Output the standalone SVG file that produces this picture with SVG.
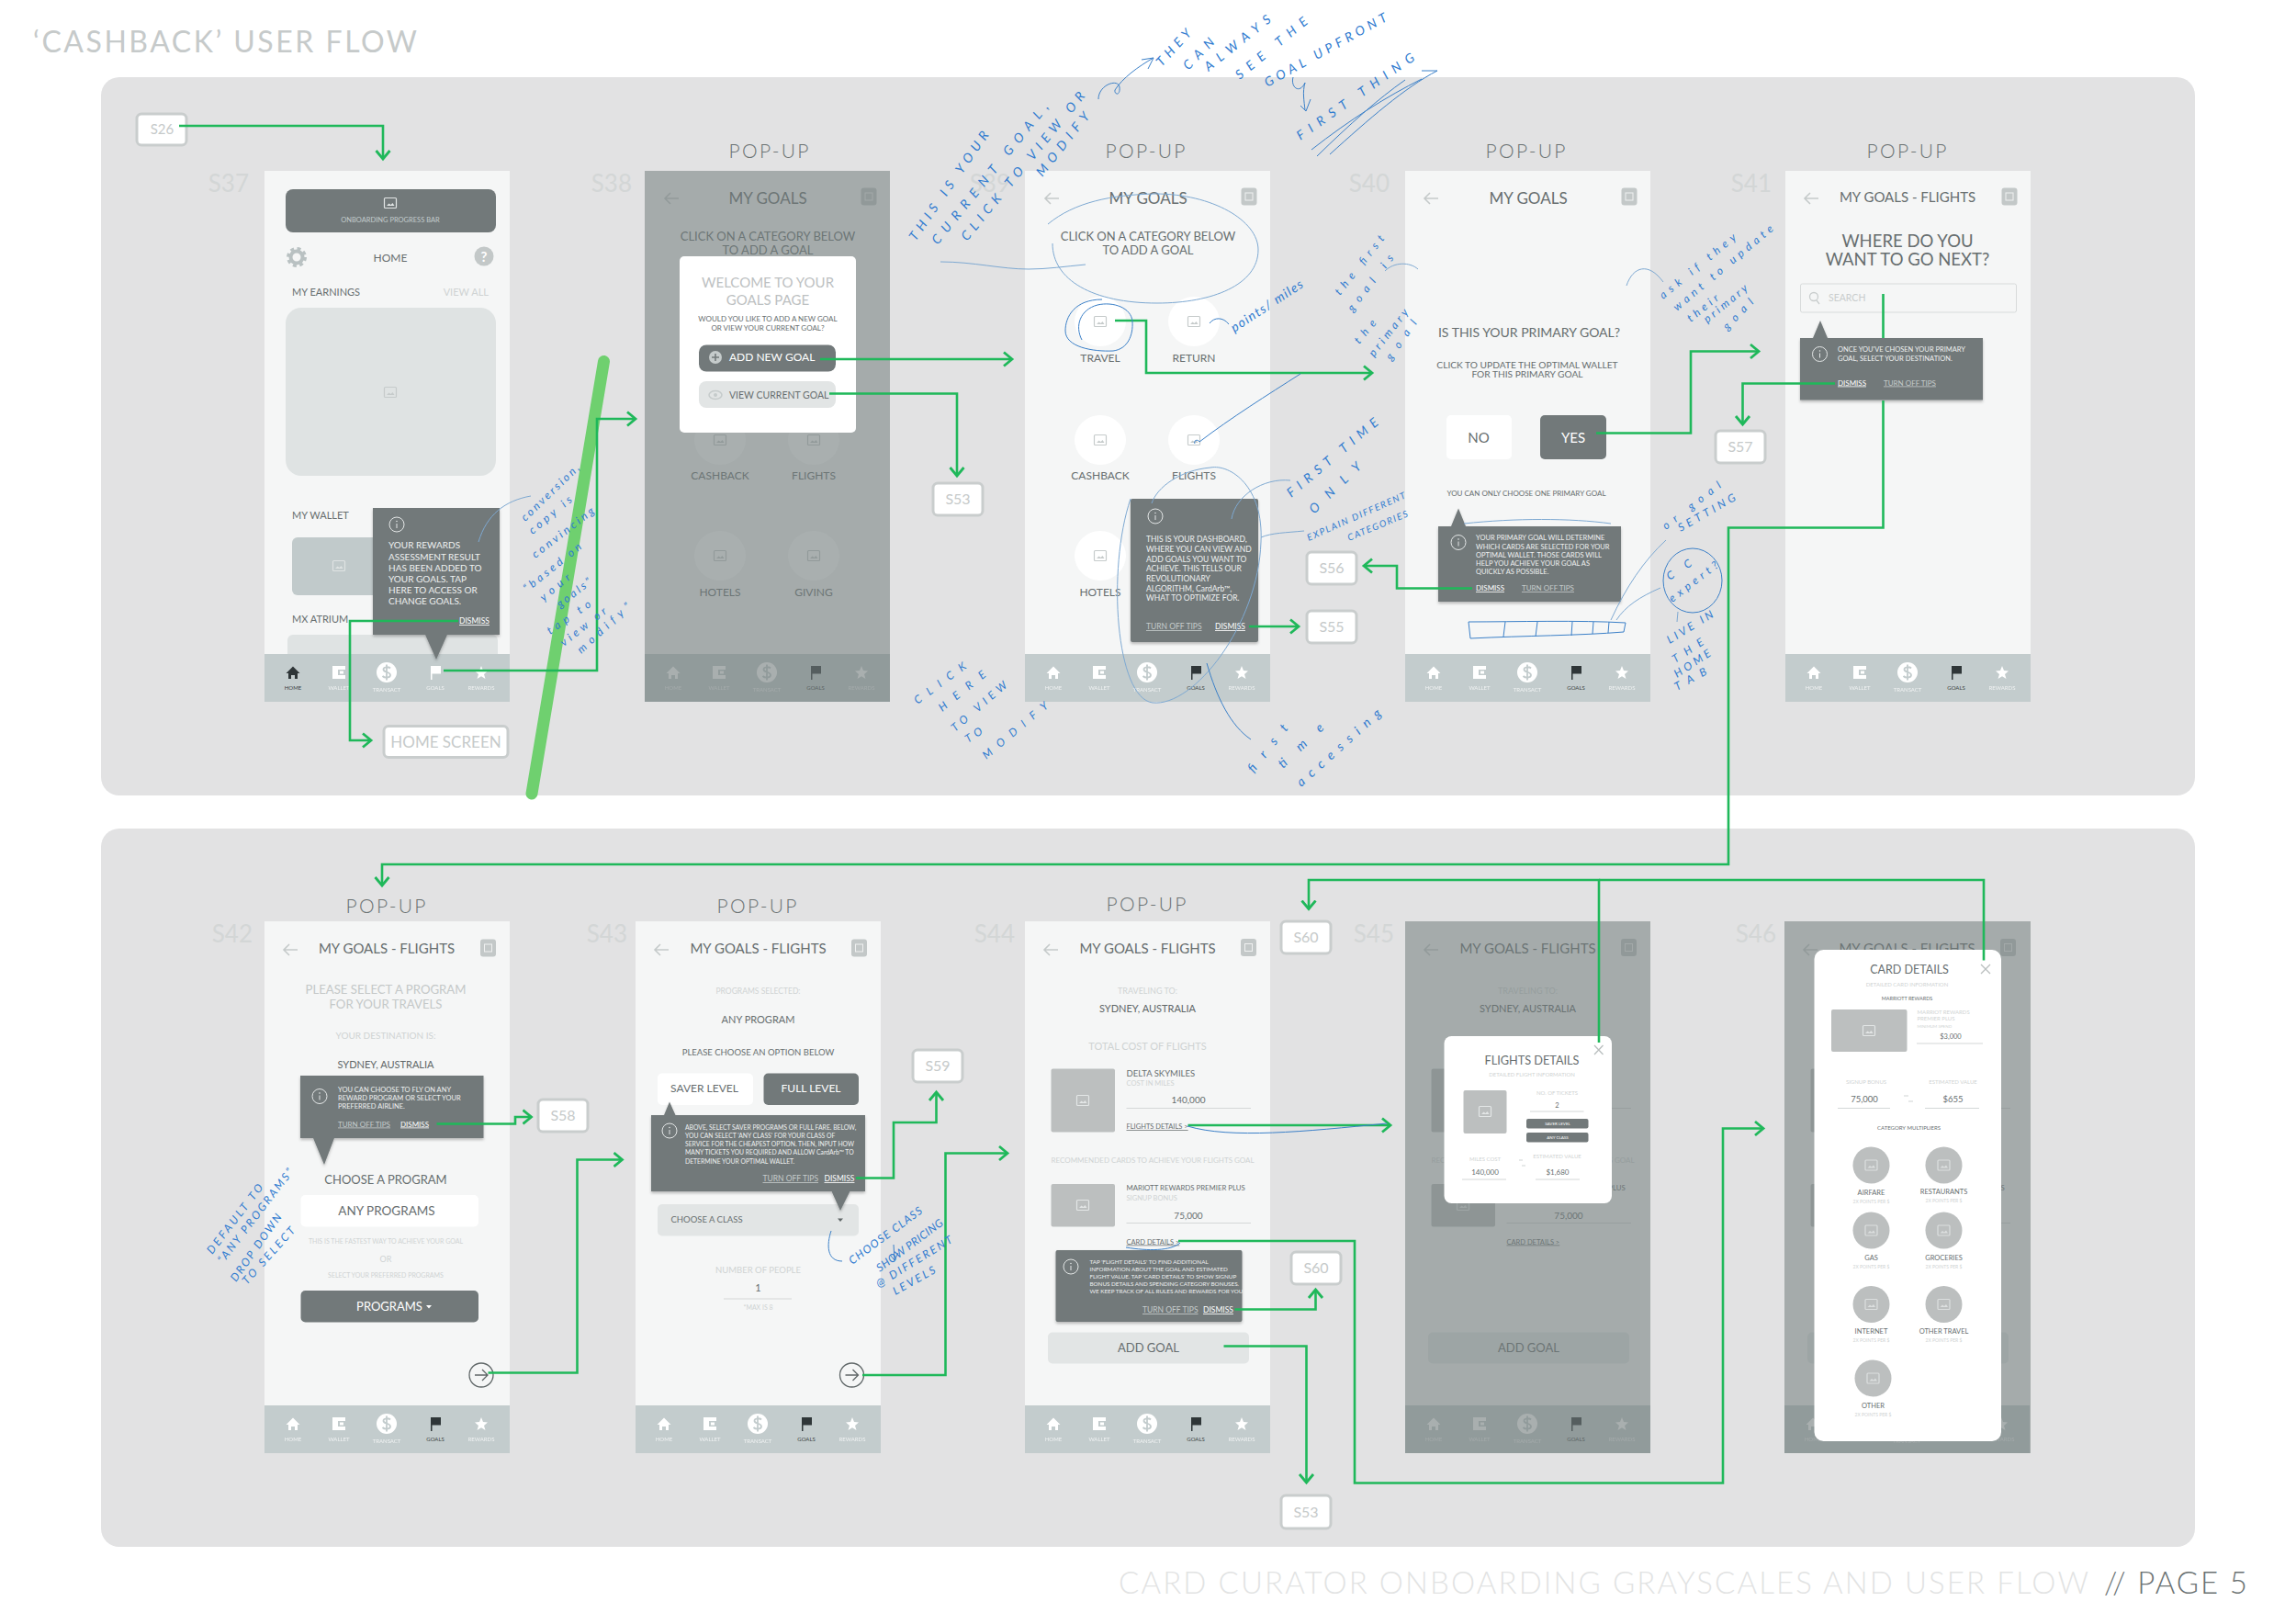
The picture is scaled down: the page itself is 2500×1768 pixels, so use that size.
<svg xmlns="http://www.w3.org/2000/svg" width="2500" height="1768" viewBox="0 0 2500 1768">
<style>
text{font-family:Lato,"Liberation Sans",sans-serif;fill:#676e6f}
.m{text-anchor:middle}.e{text-anchor:end}
.ph{fill:#f5f6f6}.dim{fill:#6f7a7a;opacity:.6}.dk{fill:#72797a}.wh{fill:#fff}.pale{fill:#e2e5e5}.img{fill:#bcbfbf}
text.l{fill:#cfd3d3}text.w{fill:#fff}text.g{fill:#c3c8c8}text.t{fill:#eef0f0}text.s{fill:#d3d6d6;font-size:26px}
text.nv{fill:#fff;opacity:.75;font-size:6px;text-anchor:middle}text.nd{fill:#3b4243;font-size:6px;text-anchor:middle}
text.dm{fill:#fff;text-decoration:underline}text.to{fill:#c5cbcb;text-decoration:underline}
text.pu{font-size:21px;text-anchor:middle;fill:#6b7273;font-weight:300}
text.bx{fill:#c6caca;font-size:16px;text-anchor:middle}
text.n{fill:#2f7bd0;font-size:14px;font-style:italic;font-weight:400}
text.ns{font-size:12px}
.bb{fill:#fff;stroke:#c9cdcd;stroke-width:3}
.cn{fill:none;stroke:#1fb85a;stroke-width:2.6;marker-end:url(#a)}
.cp{fill:none;stroke:#1fb85a;stroke-width:2.6}
.pen{fill:none;stroke:#3b80c8;stroke-width:1}
.pen2{fill:none;stroke:#7ea9d2;stroke-width:1}
.ln{stroke:#d4d7d7;stroke-width:1;fill:none}
</style>
<defs>
<marker id="a" markerUnits="userSpaceOnUse" markerWidth="20" markerHeight="20" viewBox="0 0 20 20" refX="10" refY="10" orient="auto"><path d="M1,2.5 L10,10 L1,17.5" fill="none" stroke="#1fb85a" stroke-width="2.8"/></marker>
<filter id="sh" x="-5%" y="-5%" width="110%" height="115%"><feDropShadow dx="0" dy="2" stdDeviation="1.5" flood-color="#000" flood-opacity=".25"/></filter>
<g id="ic" fill="none" stroke="currentColor" stroke-width="1.2"><rect x="-6.5" y="-5.5" width="13" height="11" rx="1"/><path d="M-4,3 L-1.5,0.5 L0.5,2 L2.5,0 L4.5,3Z" fill="currentColor" stroke="none"/></g>
<path id="back" d="M8,0 H-7 M-1,-6 L-7,0 L-1,6" fill="none" stroke="#c5caca" stroke-width="1.6"/>
<g id="sq"><rect x="-8.5" y="-9.5" width="17" height="19" rx="3" fill="#c3c8c8"/><rect x="-4" y="-4" width="8" height="8" fill="none" stroke="#f0f1f1"/></g>
<g id="info" fill="none" stroke="#e3e6e6" stroke-width="1"><circle r="8"/><path d="M0,-1 V4"/><circle cy="-3.5" r=".4"/></g>
<g id="nav"><rect width="267" height="52" fill="#c3cccd"/>
<path d="M74,13 h14 v14 h-14z" fill="#fff"/><rect x="80" y="17" width="8" height="6" fill="#c3cccd"/><rect x="82" y="18.500" width="4" height="3" fill="#fff"/>
<circle cx="133" cy="20" r="11" fill="#fff"/><path d="M137,15.500 C135,13.500 129,14 129.500,17 C130,20.500 137,19 137,23 C137,26 131,26.500 128.500,24 M133,11.500 V28.500" fill="none" stroke="#c3cccd" stroke-width="1.800"/>
<polygon points="236,13 238,18 243,18.500 239,22 240.500,27 236,24.300 231.500,27 233,22 229,18.500 234,18" fill="#fff"/></g>
<path id="hm" d="M-7.500,1 L0,-6.500 L7.500,1 H5 V7 H2 V3 H-2 V7 H-5 V1Z"/>
<path id="fl" d="M-5,-7 H6 V1.500 H-3.500 V8 H-5Z"/>
<g id="nx"><circle r="13" fill="none" stroke="#5f6667" stroke-width="1.300"/><path d="M-7,0 H7 M1,-6 L7,0 L1,6" fill="none" stroke="#5f6667" stroke-width="1.300"/></g>
</defs>
<rect width="2500" height="1768" fill="#fff"/>
<text id="title" x="36" y="57" font-size="32" textLength="418" style="fill:#c6caca">‘CASHBACK’ USER FLOW</text>
<text id="footer-a" x="1218" y="1735" font-size="33" textLength="1056" style="fill:#e2e3e3;font-weight:300">CARD CURATOR ONBOARDING GRAYSCALES AND USER FLOW</text>
<text id="footer-b" x="2291" y="1735" font-size="33" textLength="156" style="fill:#6b7273;font-weight:300">// PAGE 5</text>
<rect id="panel-top" x="110" y="84" width="2280" height="782" rx="20" fill="#e2e2e3"/>
<rect id="panel-bottom" x="110" y="902" width="2280" height="782" rx="20" fill="#e2e2e3"/>

<g id="screen-labels">
<text class="s e" x="271" y="209">S37</text><text class="s e" x="688" y="209">S38</text><text class="s e" x="1100" y="209">S39</text><text class="s e" x="1513" y="209">S40</text><text class="s e" x="1929" y="209">S41</text>
<text class="s e" x="275" y="1026">S42</text><text class="s e" x="683" y="1026">S43</text><text class="s e" x="1105" y="1026">S44</text><text class="s e" x="1518" y="1026">S45</text><text class="s e" x="1934" y="1026">S46</text>
<text class="pu" x="837" y="172" textLength="87">POP-UP</text><text class="pu" x="1247" y="172" textLength="87">POP-UP</text><text class="pu" x="1661" y="172" textLength="87">POP-UP</text><text class="pu" x="2076" y="172" textLength="87">POP-UP</text>
<text class="pu" x="420" y="994" textLength="87">POP-UP</text><text class="pu" x="824" y="994" textLength="87">POP-UP</text><text class="pu" x="1248" y="992" textLength="87">POP-UP</text>
</g>

<g id="S37" transform="translate(288,186)">
<rect class="ph" width="267" height="578"/>
<rect class="dk" x="23" y="20" width="229" height="47" rx="8"/>
<use href="#ic" x="137" y="35" color="#e3e6e6"/>
<text class="m" x="137" y="56" font-size="7.500" style="fill:#c3cccd">ONBOARDING PROGRESS BAR</text>
<circle cx="35" cy="94" r="6.500" fill="none" stroke="#b9c1c2" stroke-width="4"/><circle cx="35" cy="94" r="9.500" fill="none" stroke="#b9c1c2" stroke-width="3" stroke-dasharray="4 3.500"/>
<circle cx="239" cy="93" r="10.500" fill="#c3c8c8"/><text class="m w" x="239" y="98.500" font-size="15" font-weight="700">?</text>
<text class="m" x="137" y="99" font-size="12">HOME</text>
<text x="30" y="136" font-size="11">MY EARNINGS</text>
<text class="e" x="244" y="136" font-size="11" style="fill:#cfd3d3">VIEW ALL</text>
<rect x="23" y="149" width="229" height="183" rx="17" fill="#dfe3e3"/>
<use href="#ic" x="137" y="241" color="#c6cbcb"/>
<text x="30" y="379" font-size="11">MY WALLET</text>
<rect x="30" y="399" width="100" height="63" rx="6" fill="#c1cacb"/>
<use href="#ic" x="81" y="430" color="#dfe3e3"/>
<text x="30" y="492" font-size="11">MX ATRIUM</text>
<rect x="25" y="505" width="229" height="30" rx="6" fill="#dfe3e3"/>
<g transform="translate(0,526)"><use href="#nav"/>
<use href="#hm" x="31" y="20" fill="#2f3638"/><use href="#fl" x="186" y="20" fill="#fff"/>
<text class="nd" x="31" y="39">HOME</text><text class="nv" x="81" y="39">WALLET</text><text class="nv" x="133" y="41">TRANSACT</text><text class="nv" x="186" y="39">GOALS</text><text class="nv" x="236" y="39">REWARDS</text></g>
<g filter="url(#sh)"><path class="dk" d="M118,367 H256 V505 H199 L187,532 L175,505 H118Z"/></g>
<use href="#info" x="144" y="385"/>
<text class="t" x="135" y="411" font-size="10">YOUR REWARDS</text><text class="t" x="135" y="424" font-size="10">ASSESSMENT RESULT</text><text class="t" x="135" y="436" font-size="10">HAS BEEN ADDED TO</text><text class="t" x="135" y="448" font-size="10">YOUR GOALS. TAP</text><text class="t" x="135" y="460" font-size="10">HERE TO ACCESS OR</text><text class="t" x="135" y="472" font-size="10">CHANGE GOALS.</text>
<text class="dm" x="212" y="493" font-size="8.500">DISMISS</text>
</g>

<g id="S38" transform="translate(702,186)">
<rect class="ph" width="267" height="578"/>
<use href="#back" x="29" y="30"/><use href="#sq" x="244" y="28"/>
<text class="m" x="134" y="36" font-size="17">MY GOALS</text>
<text class="m" x="134" y="76" font-size="13">CLICK ON A CATEGORY BELOW</text><text class="m" x="134" y="91" font-size="13">TO ADD A GOAL</text>
<ellipse class="wh" cx="82" cy="293" rx="28" ry="27"/><use href="#ic" x="82" y="293" color="#c6cbcb"/>
<ellipse class="wh" cx="184" cy="293" rx="28" ry="27"/><use href="#ic" x="184" y="293" color="#c6cbcb"/>
<ellipse class="wh" cx="82" cy="419" rx="28" ry="27"/><use href="#ic" x="82" y="419" color="#c6cbcb"/>
<ellipse class="wh" cx="184" cy="419" rx="28" ry="27"/><use href="#ic" x="184" y="419" color="#c6cbcb"/>
<text class="m" x="82" y="336" font-size="12">CASHBACK</text><text class="m" x="184" y="336" font-size="12">FLIGHTS</text><text class="m" x="82" y="463" font-size="12">HOTELS</text><text class="m" x="184" y="463" font-size="12">GIVING</text>
<g transform="translate(0,526)"><use href="#nav"/><use href="#hm" x="31" y="20" fill="#fff"/><use href="#fl" x="186" y="20" fill="#2f3638"/>
<text class="nv" x="31" y="39">HOME</text><text class="nv" x="81" y="39">WALLET</text><text class="nv" x="133" y="41">TRANSACT</text><text class="nd" x="186" y="39">GOALS</text><text class="nv" x="236" y="39">REWARDS</text></g>
<rect class="dim" width="267" height="578"/>
<rect class="wh" x="38" y="93" width="192" height="192" rx="5"/>
<text class="m" x="134" y="127" font-size="15" style="fill:#bdc1c2">WELCOME TO YOUR</text><text class="m" x="134" y="146" font-size="15" style="fill:#bdc1c2">GOALS PAGE</text>
<text class="m" x="134" y="164" font-size="8">WOULD YOU LIKE TO ADD A NEW GOAL</text><text class="m" x="134" y="174" font-size="8">OR VIEW YOUR CURRENT GOAL?</text>
<rect class="dk" x="59" y="189.500" width="149" height="29" rx="8"/>
<circle cx="77" cy="203" r="7" fill="#c5cbcb"/><path d="M77,199 V207 M73,203 H81" stroke="#72797a" stroke-width="1.600"/>
<text class="w" x="92" y="207" font-size="12">ADD NEW GOAL</text>
<rect class="pale" x="59" y="229" width="149" height="29" rx="8"/>
<ellipse cx="77" cy="244" rx="7" ry="4.500" fill="none" stroke="#c5cbcb" stroke-width="1.500"/><circle cx="77" cy="244" r="2" fill="#c5cbcb"/>
<text x="92" y="248" font-size="10.500">VIEW CURRENT GOAL</text>
</g>

<g id="S39" transform="translate(1116,186)">
<rect class="ph" width="267" height="578"/>
<use href="#back" x="29" y="30"/><use href="#sq" x="244" y="28"/>
<text class="m" x="134" y="36" font-size="17">MY GOALS</text>
<text class="m" x="134" y="76" font-size="13">CLICK ON A CATEGORY BELOW</text><text class="m" x="134" y="91" font-size="13">TO ADD A GOAL</text>
<ellipse class="wh" cx="82" cy="164" rx="28" ry="27"/><use href="#ic" x="82" y="164" color="#c6cbcb"/>
<ellipse class="wh" cx="184" cy="164" rx="28" ry="27"/><use href="#ic" x="184" y="164" color="#c6cbcb"/>
<ellipse class="wh" cx="82" cy="293" rx="28" ry="27"/><use href="#ic" x="82" y="293" color="#c6cbcb"/>
<ellipse class="wh" cx="184" cy="293" rx="28" ry="27"/><use href="#ic" x="184" y="293" color="#c6cbcb"/>
<ellipse class="wh" cx="82" cy="419" rx="28" ry="27"/><use href="#ic" x="82" y="419" color="#c6cbcb"/>
<text class="m" x="82" y="208" font-size="12">TRAVEL</text><text class="m" x="184" y="208" font-size="12">RETURN</text>
<text class="m" x="82" y="336" font-size="12">CASHBACK</text><text class="m" x="184" y="336" font-size="12">FLIGHTS</text><text class="m" x="82" y="463" font-size="12">HOTELS</text>
<g transform="translate(0,526)"><use href="#nav"/><use href="#hm" x="31" y="20" fill="#fff"/><use href="#fl" x="186" y="20" fill="#2f3638"/>
<text class="nv" x="31" y="39">HOME</text><text class="nv" x="81" y="39">WALLET</text><text class="nv" x="133" y="41">TRANSACT</text><text class="nd" x="186" y="39">GOALS</text><text class="nv" x="236" y="39">REWARDS</text></g>
<rect class="dk" x="115" y="357" width="139" height="156" rx="2" filter="url(#sh)"/>
<use href="#info" x="142" y="376"/>
<text class="t" x="132" y="404" font-size="8.500">THIS IS YOUR DASHBOARD,</text><text class="t" x="132" y="415" font-size="8.500">WHERE YOU CAN VIEW AND</text><text class="t" x="132" y="425.500" font-size="8.500">ADD GOALS YOU WANT TO</text><text class="t" x="132" y="436" font-size="8.500">ACHIEVE. THIS TELLS OUR</text><text class="t" x="132" y="447" font-size="8.500">REVOLUTIONARY</text><text class="t" x="132" y="457.500" font-size="8.500">ALGORITHM, CardArb™,</text><text class="t" x="132" y="468" font-size="8.500">WHAT TO OPTIMIZE FOR.</text>
<text class="to" x="132" y="499" font-size="8.500">TURN OFF TIPS</text><text class="dm" x="207" y="499" font-size="8.500">DISMISS</text>
</g>

<g id="S40" transform="translate(1530,186)">
<rect class="ph" width="267" height="578"/>
<use href="#back" x="28" y="30"/><use href="#sq" x="244" y="28"/>
<text class="m" x="134" y="36" font-size="17">MY GOALS</text>
<text class="m" x="135" y="181" font-size="14">IS THIS YOUR PRIMARY GOAL?</text>
<text class="m" x="133" y="215" font-size="10.200">CLICK TO UPDATE THE OPTIMAL WALLET</text><text class="m" x="133" y="225" font-size="10.200">FOR THIS PRIMARY GOAL</text>
<rect class="wh" x="45" y="266" width="71" height="48" rx="5"/><text class="m" x="80" y="296" font-size="15">NO</text>
<rect class="dk" x="147" y="266" width="72" height="48" rx="5"/><text class="m w" x="183" y="296" font-size="15">YES</text>
<text class="m" x="132" y="354" font-size="8">YOU CAN ONLY CHOOSE ONE PRIMARY GOAL</text>
<g transform="translate(0,526)"><use href="#nav"/><use href="#hm" x="31" y="20" fill="#fff"/><use href="#fl" x="186" y="20" fill="#2f3638"/>
<text class="nv" x="31" y="39">HOME</text><text class="nv" x="81" y="39">WALLET</text><text class="nv" x="133" y="41">TRANSACT</text><text class="nd" x="186" y="39">GOALS</text><text class="nv" x="236" y="39">REWARDS</text></g>
<g filter="url(#sh)"><path class="dk" d="M36,387 H50 L58,367.500 L66,387 H235 V469 H36Z"/></g>
<use href="#info" x="58" y="404.500"/>
<text class="t" x="77" y="402" font-size="7.500">YOUR PRIMARY GOAL WILL DETERMINE</text><text class="t" x="77" y="411.500" font-size="7.500">WHICH CARDS ARE SELECTED FOR YOUR</text><text class="t" x="77" y="421" font-size="7.500">OPTIMAL WALLET. THOSE CARDS WILL</text><text class="t" x="77" y="430" font-size="7.500">HELP YOU ACHIEVE YOUR GOAL AS</text><text class="t" x="77" y="439" font-size="7.500">QUICKLY AS POSSIBLE.</text>
<text class="dm" x="77" y="457" font-size="8">DISMISS</text><text class="to" x="127" y="457" font-size="8">TURN OFF TIPS</text>
</g>

<g id="S41" transform="translate(1944,186)">
<rect class="ph" width="267" height="578"/>
<use href="#back" x="28" y="30"/><use href="#sq" x="244" y="28"/>
<text class="m" x="133" y="34" font-size="15">MY GOALS - FLIGHTS</text>
<text class="m" x="133" y="83" font-size="18.500">WHERE DO YOU</text><text class="m" x="133" y="103" font-size="18.500">WANT TO GO NEXT?</text>
<rect x="16.500" y="123" width="235" height="31" rx="2" fill="none" stroke="#d8dbdb"/>
<circle cx="31" cy="137" r="4.500" fill="none" stroke="#c9cdcd" stroke-width="1.300"/><path d="M34,141 L37,145" stroke="#c9cdcd" stroke-width="1.300"/>
<text x="47" y="142" font-size="10.500" style="fill:#c9cdcd">SEARCH</text>
<g transform="translate(0,526)"><use href="#nav"/><use href="#hm" x="31" y="20" fill="#fff"/><use href="#fl" x="186" y="20" fill="#2f3638"/>
<text class="nv" x="31" y="39">HOME</text><text class="nv" x="81" y="39">WALLET</text><text class="nv" x="133" y="41">TRANSACT</text><text class="nd" x="186" y="39">GOALS</text><text class="nv" x="236" y="39">REWARDS</text></g>
<g filter="url(#sh)"><path class="dk" d="M16,182 H30 L38,163 L46,182 H215 V249.500 H16Z"/></g>
<use href="#info" x="37.500" y="199.500"/>
<text class="t" x="57" y="197" font-size="7.500">ONCE YOU'VE CHOSEN YOUR PRIMARY</text><text class="t" x="57" y="206.500" font-size="7.500">GOAL, SELECT YOUR DESTINATION.</text>
<text class="dm" x="57" y="233.500" font-size="8">DISMISS</text><text class="to" x="107" y="233.500" font-size="8">TURN OFF TIPS</text>
</g>

<g id="S42" transform="translate(288,1003)">
<rect class="ph" width="267" height="579"/>
<use href="#back" x="28" y="31"/><use href="#sq" x="243.500" y="29"/>
<text class="m" x="133" y="34.500" font-size="15">MY GOALS - FLIGHTS</text>
<text class="m" x="132" y="79" font-size="13.200" style="fill:#c4c8c8">PLEASE SELECT A PROGRAM</text><text class="m" x="132" y="94.500" font-size="13.200" style="fill:#c4c8c8">FOR YOUR TRAVELS</text>
<text class="m l" x="132" y="127.500" font-size="10">YOUR DESTINATION IS:</text>
<text class="m" x="132" y="160" font-size="11" style="fill:#5f6667">SYDNEY, AUSTRALIA</text>
<text class="m" x="132" y="286" font-size="13">CHOOSE A PROGRAM</text>
<rect class="wh" x="39.500" y="298" width="193.500" height="34.500" rx="5"/><text class="m" x="133" y="320" font-size="13.500">ANY PROGRAMS</text>
<text class="m l" x="132" y="351" font-size="7">THIS IS THE FASTEST WAY TO ACHIEVE YOUR GOAL</text>
<text class="m l" x="132" y="371" font-size="9">OR</text>
<text class="m l" x="132" y="388" font-size="7">SELECT YOUR PREFERRED PROGRAMS</text>
<rect class="dk" x="39.500" y="402" width="193.500" height="34.500" rx="5"/><text class="m w" x="136" y="424" font-size="13">PROGRAMS</text><polygon points="176,418 182,418 179,421.500" fill="#fff"/>
<use href="#nx" x="236" y="494"/>
<g transform="translate(0,527)"><use href="#nav"/><use href="#hm" x="31" y="20" fill="#fff"/><use href="#fl" x="186" y="20" fill="#2f3638"/>
<text class="nv" x="31" y="39">HOME</text><text class="nv" x="81" y="39">WALLET</text><text class="nv" x="133" y="41">TRANSACT</text><text class="nd" x="186" y="39">GOALS</text><text class="nv" x="236" y="39">REWARDS</text></g>
<g filter="url(#sh)"><path class="dk" d="M39,168 H238.500 V236 H76 L65,265 L53,236 H39Z"/></g>
<use href="#info" x="60" y="190.500"/>
<text class="t" x="80" y="186" font-size="7.500">YOU CAN CHOOSE TO FLY ON ANY</text><text class="t" x="80" y="195" font-size="7.500">REWARD PROGRAM OR SELECT YOUR</text><text class="t" x="80" y="204" font-size="7.500">PREFERRED AIRLINE.</text>
<text class="to" x="80" y="223.500" font-size="8">TURN OFF TIPS</text><text class="dm" x="148" y="223.500" font-size="8">DISMISS</text>
</g>

<g id="S43" transform="translate(692,1003)">
<rect class="ph" width="267" height="579"/>
<use href="#back" x="28" y="31"/><use href="#sq" x="243.500" y="29"/>
<text class="m" x="133.500" y="34.500" font-size="15">MY GOALS - FLIGHTS</text>
<text class="m l" x="133.500" y="78.500" font-size="8.500">PROGRAMS SELECTED:</text>
<text class="m" x="133.500" y="110.500" font-size="11">ANY PROGRAM</text>
<text class="m" x="133.500" y="146" font-size="9.500">PLEASE CHOOSE AN OPTION BELOW</text>
<rect class="wh" x="24" y="165.500" width="104" height="34.500" rx="5"/><text class="m" x="75" y="186" font-size="12">SAVER LEVEL</text>
<rect class="dk" x="139.500" y="165.500" width="103.500" height="34.500" rx="5"/><text class="m w" x="191" y="186" font-size="12">FULL LEVEL</text>
<rect class="pale" x="24" y="308" width="219" height="34.500" rx="5"/><text x="38.500" y="328" font-size="9.500">CHOOSE A CLASS</text><polygon points="220,323.500 226,323.500 223,327" fill="#5f6667"/>
<text class="m l" x="133.500" y="383" font-size="9.500">NUMBER OF PEOPLE</text>
<text class="m" x="133.500" y="403" font-size="11">1</text><path class="ln" d="M96,411 H170"/>
<text class="m l" x="133.500" y="423" font-size="7">*MAX IS 8</text>
<use href="#nx" x="235.500" y="494"/>
<g transform="translate(0,527)"><use href="#nav"/><use href="#hm" x="31" y="20" fill="#fff"/><use href="#fl" x="186" y="20" fill="#2f3638"/>
<text class="nv" x="31" y="39">HOME</text><text class="nv" x="81" y="39">WALLET</text><text class="nv" x="133" y="41">TRANSACT</text><text class="nd" x="186" y="39">GOALS</text><text class="nv" x="236" y="39">REWARDS</text></g>
<g filter="url(#sh)"><path class="dk" d="M17,211 H31 L37,196.500 L43.500,211 H250 V294 H233.500 L223,315 L213.500,294 H17Z"/></g>
<use href="#info" x="37" y="228"/>
<text class="t" x="54" y="226.500" font-size="6.800">ABOVE, SELECT SAVER PROGRAMS OR FULL FARE. BELOW,</text><text class="t" x="54" y="236" font-size="6.800">YOU CAN SELECT 'ANY CLASS' FOR YOUR CLASS OF</text><text class="t" x="54" y="245" font-size="6.800">SERVICE FOR THE CHEAPEST OPTION. THEN, INPUT HOW</text><text class="t" x="54" y="254" font-size="6.800">MANY TICKETS YOU REQUIRED AND ALLOW CardArb™ TO</text><text class="t" x="54" y="263.500" font-size="6.800">DETERMINE YOUR OPTIMAL WALLET.</text>
<text class="to" x="138.500" y="283" font-size="8.500">TURN OFF TIPS</text><text class="dm" x="205.500" y="283" font-size="8.500">DISMISS</text>
</g>

<g id="S44" transform="translate(1116,1003)">
<rect class="ph" width="267" height="579"/>
<use href="#back" x="28" y="31"/><use href="#sq" x="243.500" y="28.500"/>
<text class="m" x="133.500" y="34.500" font-size="15">MY GOALS - FLIGHTS</text>
<text class="m l" x="133.500" y="79" font-size="9">TRAVELING TO:</text>
<text class="m" x="133.500" y="99" font-size="11" style="fill:#5f6667">SYDNEY, AUSTRALIA</text>
<text class="m l" x="133.500" y="140" font-size="11">TOTAL COST OF FLIGHTS</text>
<rect class="img" x="28.500" y="160.500" width="69.500" height="69" rx="2"/><use href="#ic" x="63" y="195" color="#e3e6e6"/>
<text x="110.500" y="168.500" font-size="9.500">DELTA SKYMILES</text><text class="l" x="110.500" y="179" font-size="7.500">COST IN MILES</text>
<text class="m" x="178" y="198" font-size="10">140,000</text><path class="ln" d="M110.500,203.500 H246"/>
<text x="110.500" y="226" font-size="7.500" text-decoration="underline">FLIGHTS DETAILS &gt;</text>
<text class="l" x="28.500" y="263" font-size="8">RECOMMENDED CARDS TO ACHIEVE YOUR FLIGHTS GOAL</text>
<rect class="img" x="28.500" y="286" width="69.500" height="46.500" rx="2"/><use href="#ic" x="63" y="309" color="#e3e6e6"/>
<text x="110.500" y="292.500" font-size="7.800">MARIOTT REWARDS PREMIER PLUS</text><text class="l" x="110.500" y="303.500" font-size="7.500">SIGNUP BONUS</text>
<text class="m" x="178" y="323.500" font-size="10">75,000</text><path class="ln" d="M110.500,328.500 H246"/>
<text x="110.500" y="351.500" font-size="7.500" text-decoration="underline">CARD DETAILS &gt;</text>
<rect class="pale" x="25" y="447.500" width="219" height="34" rx="5"/><text class="m" x="134.500" y="469" font-size="13">ADD GOAL</text>
<g transform="translate(0,527)"><use href="#nav"/><use href="#hm" x="31" y="20" fill="#fff"/><use href="#fl" x="186" y="20" fill="#2f3638"/>
<text class="nv" x="31" y="39">HOME</text><text class="nv" x="81" y="39">WALLET</text><text class="nv" x="133" y="41">TRANSACT</text><text class="nd" x="186" y="39">GOALS</text><text class="nv" x="236" y="39">REWARDS</text></g>
<rect class="dk" x="33.500" y="358" width="203" height="78" rx="2" filter="url(#sh)"/>
<use href="#info" x="50" y="376"/>
<text class="t" x="70.500" y="373" font-size="6.300">TAP 'FLIGHT DETAILS' TO FIND ADDITIONAL</text><text class="t" x="70.500" y="381" font-size="6.300">INFORMATION ABOUT THE GOAL AND ESTIMATED</text><text class="t" x="70.500" y="389" font-size="6.300">FLIGHT VALUE. TAP 'CARD DETAILS' TO SHOW SIGNUP</text><text class="t" x="70.500" y="397" font-size="6.300">BONUS DETAILS AND SPENDING CATEGORY BONUSES.</text><text class="t" x="70.500" y="405" font-size="6.300">WE KEEP TRACK OF ALL RULES AND REWARDS FOR YOU.</text>
<text class="to" x="128" y="426" font-size="8.500">TURN OFF TIPS</text><text class="dm" x="194" y="426" font-size="8.500">DISMISS</text>
</g>

<g id="S45" transform="translate(1530,1003)">
<rect class="ph" width="267" height="579"/>
<use href="#back" x="28" y="31"/><use href="#sq" x="243.500" y="28.500"/>
<text class="m" x="133.500" y="34.500" font-size="15">MY GOALS - FLIGHTS</text>
<text class="m l" x="133.500" y="79" font-size="9">TRAVELING TO:</text>
<text class="m" x="133.500" y="99" font-size="11" style="fill:#5f6667">SYDNEY, AUSTRALIA</text>
<rect class="img" x="28.500" y="160.500" width="69.500" height="69" rx="2"/>
<path class="ln" d="M110.500,203.500 H246"/>
<text class="l" x="28.500" y="263" font-size="8">RECOMMENDED CARDS TO ACHIEVE YOUR FLIGHTS GOAL</text>
<rect class="img" x="28.500" y="286" width="69.500" height="46.500" rx="2"/><use href="#ic" x="63" y="309" color="#e3e6e6"/>
<text x="110.500" y="292.500" font-size="7.800">MARIOTT REWARDS PREMIER PLUS</text>
<text class="m" x="178" y="323.500" font-size="10">75,000</text><path class="ln" d="M110.500,328.500 H246"/>
<text x="110.500" y="351.500" font-size="7.500" text-decoration="underline">CARD DETAILS &gt;</text>
<rect class="pale" x="25" y="447.500" width="219" height="34" rx="5"/><text class="m" x="134.500" y="469" font-size="13">ADD GOAL</text>
<g transform="translate(0,527)"><use href="#nav"/><use href="#hm" x="31" y="20" fill="#fff"/><use href="#fl" x="186" y="20" fill="#2f3638"/>
<text class="nv" x="31" y="39">HOME</text><text class="nv" x="81" y="39">WALLET</text><text class="nv" x="133" y="41">TRANSACT</text><text class="nd" x="186" y="39">GOALS</text><text class="nv" x="236" y="39">REWARDS</text></g>
<rect class="dim" width="267" height="579"/>
<rect class="wh" x="42.500" y="125" width="182.500" height="182" rx="8"/>
<path d="M206,135 L215.500,145 M215.500,135 L206,145" stroke="#b9bebe" stroke-width="1.300"/>
<text class="m" x="138" y="155.500" font-size="12.700">FLIGHTS DETAILS</text><text class="m l" x="138" y="168.500" font-size="6">DETAILED FLIGHT INFORMATION</text>
<rect class="img" x="63.500" y="184" width="47" height="47" rx="2"/><use href="#ic" x="87" y="207" color="#e3e6e6"/>
<text class="m l" x="165.500" y="189" font-size="6">NO. OF TICKETS</text><text class="m" x="165.500" y="203" font-size="7.500">2</text><path class="ln" d="M136,207 H194.500"/>
<rect class="dk" x="132" y="215" width="67.500" height="10.500" rx="2"/><text class="m w" x="166" y="222" font-size="4.500">SAVER LEVEL</text>
<rect class="dk" x="132" y="230" width="67.500" height="10.500" rx="2"/><text class="m w" x="166" y="237" font-size="4.500">ANY CLASS</text>
<text class="m l" x="87" y="260.500" font-size="6">MILES COST</text><text class="m l" x="165.500" y="258" font-size="6">ESTIMATED VALUE</text>
<text class="m" x="87" y="276" font-size="8">140,000</text><text class="m" x="166" y="276" font-size="8">$1,680</text>
<path class="ln" d="M62,281 H110 M142,281 H190"/>
<path d="M124,260 h4 M127,266 h4" stroke="#cfd3d3" stroke-width="1"/>
</g>

<g id="S46" transform="translate(1943,1003)">
<rect class="ph" width="268" height="579"/>
<use href="#back" x="28" y="31"/><use href="#sq" x="243.500" y="28.500"/>
<text class="m" x="133.500" y="34.500" font-size="15">MY GOALS - FLIGHTS</text>
<rect class="img" x="28.500" y="160.500" width="69.500" height="69" rx="2"/><rect class="img" x="28.500" y="286" width="69.500" height="46.500" rx="2"/>
<path class="ln" d="M200,203.500 H246 M200,328.500 H246"/>
<text x="110.500" y="292.500" font-size="7.800">MARIOTT REWARDS PREMIER PLUS</text>
<rect class="pale" x="25" y="447.500" width="219" height="34" rx="5"/>
<g transform="translate(0,527)"><use href="#nav"/><use href="#hm" x="31" y="20" fill="#fff"/><use href="#fl" x="186" y="20" fill="#2f3638"/>
<text class="nv" x="31" y="39">HOME</text><text class="nv" x="81" y="39">WALLET</text><text class="nv" x="133" y="41">TRANSACT</text><text class="nd" x="186" y="39">GOALS</text><text class="nv" x="236" y="39">REWARDS</text></g>
<rect class="dim" width="268" height="579"/>
<rect class="wh" x="32.500" y="31" width="203.500" height="535" rx="10"/>
<path d="M214,47 L224,57 M224,47 L214,57" stroke="#b9bebe" stroke-width="1.300"/>
<text class="m" x="136" y="57" font-size="12.500">CARD DETAILS</text><text class="m l" x="133.500" y="71" font-size="6">DETAILED CARD INFORMATION</text>
<text class="m" x="133.500" y="85.500" font-size="5.500">MARRIOTT REWARDS</text>
<rect class="img" x="51" y="96" width="82.500" height="46" rx="2"/><use href="#ic" x="92" y="119" color="#e3e6e6"/>
<text class="l" x="144.500" y="100.500" font-size="6">MARRIOT REWARDS</text><text class="l" x="144.500" y="107.500" font-size="6">PREMIER PLUS</text><text class="l" x="144.500" y="115.500" font-size="4.500">MINIMUM SPEND</text>
<text class="m" x="181" y="128" font-size="7.500">$3,000</text><path class="ln" d="M144,133 H216"/>
<text class="m l" x="89" y="177" font-size="6">SIGNUP BONUS</text><text class="m l" x="183.500" y="177" font-size="6">ESTIMATED VALUE</text>
<text class="m" x="87" y="196.500" font-size="9.500">75,000</text><text class="m" x="183.500" y="196.500" font-size="9.500">$655</text>
<path class="ln" d="M58,203.500 H115 M153,203.500 H212"/><path d="M130,190 h5 M135,196 h5" stroke="#cfd3d3"/>
<text class="m" x="135.500" y="227" font-size="6">CATEGORY MULTIPLIERS</text>
<circle class="img" cx="94.500" cy="265.500" r="20"/><use href="#ic" x="94.500" y="265.500" color="#dcdfdf"/><circle class="img" cx="173.500" cy="265.500" r="20"/><use href="#ic" x="173.500" y="265.500" color="#dcdfdf"/>
<circle class="img" cx="94.500" cy="336.500" r="20"/><use href="#ic" x="94.500" y="336.500" color="#dcdfdf"/><circle class="img" cx="173.500" cy="336.500" r="20"/><use href="#ic" x="173.500" y="336.500" color="#dcdfdf"/>
<circle class="img" cx="94.500" cy="417" r="20"/><use href="#ic" x="94.500" y="417" color="#dcdfdf"/><circle class="img" cx="173.500" cy="417" r="20"/><use href="#ic" x="173.500" y="417" color="#dcdfdf"/>
<circle class="img" cx="96.500" cy="497.500" r="20"/><use href="#ic" x="96.500" y="497.500" color="#dcdfdf"/>
<text class="m" x="94.500" y="298" font-size="7.500">AIRFARE</text><text class="m l" x="94.500" y="307" font-size="5">2X POINTS PER $</text>
<text class="m" x="173.500" y="297" font-size="7.500">RESTAURANTS</text><text class="m l" x="173.500" y="306" font-size="5">2X POINTS PER $</text>
<text class="m" x="94.500" y="368.500" font-size="7.500">GAS</text><text class="m l" x="94.500" y="377.500" font-size="5">2X POINTS PER $</text>
<text class="m" x="173.500" y="368.500" font-size="7.500">GROCERIES</text><text class="m l" x="173.500" y="377.500" font-size="5">2X POINTS PER $</text>
<text class="m" x="94.500" y="449" font-size="7.500">INTERNET</text><text class="m l" x="94.500" y="458" font-size="5">2X POINTS PER $</text>
<text class="m" x="173.500" y="449" font-size="7.500">OTHER TRAVEL</text><text class="m l" x="173.500" y="458" font-size="5">2X POINTS PER $</text>
<text class="m" x="96.500" y="530" font-size="7.500">OTHER</text><text class="m l" x="96.500" y="539" font-size="5">2X POINTS PER $</text>
</g>

<g id="box-s26"><rect class="bb" x="149" y="124" width="54" height="34" rx="5"/><text class="bx" x="176.500" y="145.500" style="font-size:15px">S26</text></g>
<g id="box-home"><rect class="bb" x="418" y="790.500" width="135" height="34" rx="5"/><text class="bx" x="485.500" y="813.500" style="font-size:17px">HOME SCREEN</text></g>
<g id="box-s53a"><rect class="bb" x="1016" y="526" width="54" height="35" rx="5"/><text class="bx" x="1043" y="549">S53</text></g>
<g id="box-s56"><rect class="bb" x="1423" y="601" width="54" height="35" rx="5"/><text class="bx" x="1450" y="624">S56</text></g>
<g id="box-s55"><rect class="bb" x="1423" y="665" width="54" height="35" rx="5"/><text class="bx" x="1450" y="688">S55</text></g>
<g id="box-s57"><rect class="bb" x="1868" y="469" width="54" height="35" rx="5"/><text class="bx" x="1895" y="492">S57</text></g>
<g id="box-s58"><rect class="bb" x="586" y="1197" width="54" height="35" rx="5"/><text class="bx" x="613" y="1220">S58</text></g>
<g id="box-s59"><rect class="bb" x="994" y="1143" width="54" height="35" rx="5"/><text class="bx" x="1021" y="1166">S59</text></g>
<g id="box-s60a"><rect class="bb" x="1395" y="1003" width="54" height="35" rx="5"/><text class="bx" x="1422" y="1026">S60</text></g>
<g id="box-s60b"><rect class="bb" x="1406" y="1363" width="54" height="35" rx="5"/><text class="bx" x="1433" y="1386">S60</text></g>
<g id="box-s53b"><rect class="bb" x="1395" y="1628" width="54" height="36" rx="5"/><text class="bx" x="1422" y="1652">S53</text></g>

<path id="big-stroke" d="M657.500,393.500 L579,864" fill="none" stroke="#6fd06f" stroke-width="13" stroke-linecap="round"/>

<g id="connectors">
<path class="cn" d="M195,137 H417 V173"/>
<path class="cn" d="M499,676 H381 V806 H404"/>
<path class="cn" d="M483,730 H650 V456 H692"/>
<path class="cn" d="M893,391 H1102"/>
<path class="cn" d="M903,428.500 H1042 V518"/>
<path class="cn" d="M1214,349 H1248 V406 H1494"/>
<path class="cn" d="M1360,682 H1414"/>
<path class="cn" d="M1603,640.500 H1521 V616 H1485"/>
<path class="cn" d="M1738,471.500 H1841 V382.500 H1915"/>
<path class="cn" d="M1998,417.500 H1897.500 V462"/>
<path class="cp" d="M2050.500,320 V368"/>
<path class="cn" d="M2050.500,436 V574.500 H1882 V941 H416 V964"/>
<path class="cn" d="M475.500,1223.500 H561 V1216 H578.500"/>
<path class="cn" d="M531.500,1494.500 H628.500 V1262.500 H677.500"/>
<path class="cn" d="M932,1282.500 H973 V1222 H1019.500 V1189"/>
<path class="cn" d="M939,1497 H1029.500 V1255.500 H1097"/>
<path class="cn" d="M1293.500,1225 H1514"/>
<path class="cn" d="M1283,1351 H1475 V1614.500 H1876 V1228.500 H1920"/>
<path class="cn" d="M1344.500,1425.500 H1432.500 V1404"/>
<path class="cn" d="M1332.500,1465.500 H1422.500 V1614"/>
<path class="cn" d="M1741,1135 V958 H1425 V989.500"/>
<path class="cp" d="M2160,1045.500 V958 H1741"/>
</g>

<g id="handwritten-notes">
<text class="n" transform="translate(997,263) rotate(-55.4)" textLength="141">THIS IS YOUR</text>
<text class="n" transform="translate(1021,267) rotate(-51.1)" textLength="193">CURRENT GOAL,</text>
<text class="n" transform="translate(1053,263) rotate(-50.8)" textLength="204">CLICK TO VIEW OR</text>
<text class="n" transform="translate(1135,193) rotate(-51.8)" textLength="84">MODIFY</text>
<text class="n" transform="translate(1265,73) rotate(-47.5)" textLength="49">THEY</text>
<text class="n" transform="translate(1294,77) rotate(-46)" textLength="42">CAN</text>
<text class="n" transform="translate(1316,78) rotate(-38.6)" textLength="88">ALWAYS</text>
<text class="n" transform="translate(1350,87) rotate(-39.6)" textLength="97">SEE THE</text>
<text class="n" transform="translate(1380,95) rotate(-29)" textLength="150">GOAL UPFRONT</text>
<text class="n" transform="translate(1416,153) rotate(-35.1)" textLength="153">FIRST THING</text>
<text class="n ns" transform="translate(999,767) rotate(-36.5)" textLength="67">CLICK</text>
<text class="n ns" transform="translate(1026,775) rotate(-39)" textLength="62">HERE</text>
<text class="n ns" transform="translate(1040,797) rotate(-41)" textLength="76">TO VIEW</text>
<text class="n ns" transform="translate(1054,809) rotate(-33)" textLength="20">TO</text>
<text class="n ns" transform="translate(1074,827) rotate(-40)" textLength="89">MODIFY</text>
<text class="n" transform="translate(1365,842) rotate(-52)" textLength="62">first</text>
<text class="n" transform="translate(1397,837) rotate(-44)" textLength="63">time</text>
<text class="n" transform="translate(1417,857) rotate(-42)" textLength="118">accessing</text>
<text class="n" transform="translate(1406,542) rotate(-40)" textLength="125">FIRST TIME</text>
<text class="n" transform="translate(1431,560) rotate(-44.4)" textLength="73">ONLY</text>
<text class="n" transform="translate(1425,589) rotate(-23.9)" textLength="116" style="font-size:10px">EXPLAIN DIFFERENT</text>
<text class="n" transform="translate(1469,589) rotate(-22.6)" textLength="70" style="font-size:10px">CATEGORIES</text>
<text class="n" transform="translate(1344,362) rotate(-33.3)" textLength="91">points/ miles</text>
<text class="n ns" transform="translate(1459,322) rotate(-51.7)" textLength="79">the first</text>
<text class="n ns" transform="translate(1473,340) rotate(-52.7)" textLength="74">goal is</text>
<text class="n ns" transform="translate(1480,375) rotate(-50)" textLength="30">the</text>
<text class="n ns" transform="translate(1496,389) rotate(-52)" textLength="62">primary</text>
<text class="n ns" transform="translate(1515,393) rotate(-55.7)" textLength="50">goal</text>
<text class="n ns" transform="translate(1811,326) rotate(-39.5)" textLength="104">ask if they</text>
<text class="n ns" transform="translate(1826,339) rotate(-40)" textLength="138">want to update</text>
<text class="n ns" transform="translate(1841,351) rotate(-38.9)" textLength="40">their</text>
<text class="n ns" transform="translate(1859,352) rotate(-39.4)" textLength="58">primary</text>
<text class="n ns" transform="translate(1881,360) rotate(-46)" textLength="42">goal</text>
<text class="n ns" transform="translate(1814,577) rotate(-37.6)" textLength="77">or goal</text>
<text class="n ns" transform="translate(1830,579) rotate(-29.8)" textLength="70">SETTING</text>
<text class="n ns" transform="translate(1818,632) rotate(-34)" textLength="30">CC</text>
<text class="n ns" transform="translate(1821,656) rotate(-37.4)" textLength="64">expert?</text>
<text class="n ns" transform="translate(1818,701) rotate(-31.5)" textLength="57">LIVE IN</text>
<text class="n ns" transform="translate(1824,722) rotate(-33)" textLength="38">THE</text>
<text class="n ns" transform="translate(1826,738) rotate(-33)" textLength="45">HOME</text>
<text class="n ns" transform="translate(1826,752) rotate(-28.6)" textLength="38">TAB</text>
<text class="n ns" transform="translate(572,568) rotate(-44)" textLength="83">conversion,</text>
<text class="n ns" transform="translate(580,582) rotate(-40)" textLength="57">copy is</text>
<text class="n ns" transform="translate(583,608) rotate(-37.6)" textLength="82">convincing</text>
<text class="n ns" transform="translate(574,645) rotate(-38.7)" textLength="77">“based on</text>
<text class="n ns" transform="translate(592,655) rotate(-39.8)" textLength="39">your</text>
<text class="n ns" transform="translate(610,662) rotate(-37.6)" textLength="44">goals”</text>
<text class="n ns" transform="translate(599,691) rotate(-34.6)" textLength="55">tap to</text>
<text class="n ns" transform="translate(614,704) rotate(-38.2)" textLength="60">view or</text>
<text class="n ns" transform="translate(633,712) rotate(-42.8)" textLength="74">modify”</text>
<text class="n ns" transform="translate(231,1366) rotate(-52.5)" textLength="92">DEFAULT TO</text>
<text class="n ns" transform="translate(243,1376) rotate(-52.4)" textLength="126">“ANY PROGRAMS”</text>
<text class="n ns" transform="translate(257,1396) rotate(-54.8)" textLength="87">DROP DOWN</text>
<text class="n ns" transform="translate(269,1399) rotate(-48)" textLength="79">TO SELECT</text>
<text class="n ns" transform="translate(928,1377) rotate(-36.5)" textLength="96">CHOOSE CLASS</text>
<text class="n ns" transform="translate(958,1385) rotate(-36.6)" textLength="87">SHOW PRICING</text>
<text class="n ns" transform="translate(957,1402) rotate(-31.7)" textLength="95">@ DIFFERENT</text>
<text class="n ns" transform="translate(975,1410) rotate(-29)" textLength="51">LEVELS</text>
<path class="pen" d="M1196,108 C1196,92 1218,85 1219,95 C1220,105 1213,103 1214,98 C1222,85 1240,72 1256,63 M1243,65 L1256,63 L1250,75"/>
<path class="pen" d="M1408,84 C1405,95 1415,103 1421,90 C1418,100 1420,110 1421,120 M1416,115 L1422,121 L1427,108"/>
<path class="pen" d="M1428,163 C1470,130 1510,105 1548,86 M1434,170 C1470,135 1500,108 1530,87 M1448,168 C1490,130 1530,95 1565,77 L1548,77"/>
<path class="pen2" d="M1024,285 C1060,285 1090,293 1120,293 C1140,293 1160,290 1182,288"/>
<path class="pen2" d="M1141,244 C1170,220 1210,212 1258,211 C1320,211 1370,240 1370,272 C1370,310 1320,330 1260,330 C1190,330 1146,305 1146,265"/>
<path class="pen" d="M1200,326 C1170,326 1160,345 1160,360 C1160,378 1190,383 1212,382 C1228,380 1234,365 1233,350 C1232,335 1212,328 1195,332 C1176,337 1170,355 1178,370"/>
<path class="pen" d="M1301,483 C1299,479 1305,478 1306,481 C1340,455 1380,430 1416,407"/>
<path class="pen" d="M1317,352 C1322,345 1332,345 1338,353"/>
<path class="pen2" d="M1231,543 C1205,620 1215,760 1255,765 C1300,770 1370,680 1373,590 C1376,530 1340,505 1318,509 C1285,512 1260,530 1254,548"/>
<path class="pen" d="M1314,722 C1325,760 1340,790 1362,805"/>
<path class="pen2" d="M1341,565 C1345,540 1375,520 1405,523 M1373,585 C1385,580 1400,580 1420,578"/>
<path class="pen2" d="M1508,295 C1518,285 1535,285 1544,293 M1771,311 C1778,290 1795,285 1811,307"/>
<path class="pen" d="M1599,677 L1601,695 C1660,692 1720,692 1768,688 L1770,678 C1720,675 1650,677 1599,677 M1639,677 L1637,693 M1674,677 L1672,693 M1712,677 L1711,692 M1735,677 L1734,690 M1752,677 L1751,689"/>
<path class="pen2" d="M1594,570 C1650,564 1710,564 1754,570 M1814,588 C1790,610 1770,640 1754,675 M1808,640 C1785,650 1770,660 1760,675 M1827,666 L1826,677"/>
<ellipse class="pen" cx="1843" cy="632" rx="32" ry="35"/>
<path class="pen2" d="M521,590 C530,560 550,545 578,540"/>
<path class="pen" d="M905,1340 C900,1355 900,1373 917,1373 M973,1355 L974,1372 M969,1366 L974,1372 L978,1364"/>
<path class="pen" d="M1293,1226 C1340,1240 1420,1232 1510,1223 M1226,1358 C1250,1362 1275,1362 1285,1353"/>
</g>
</svg>
